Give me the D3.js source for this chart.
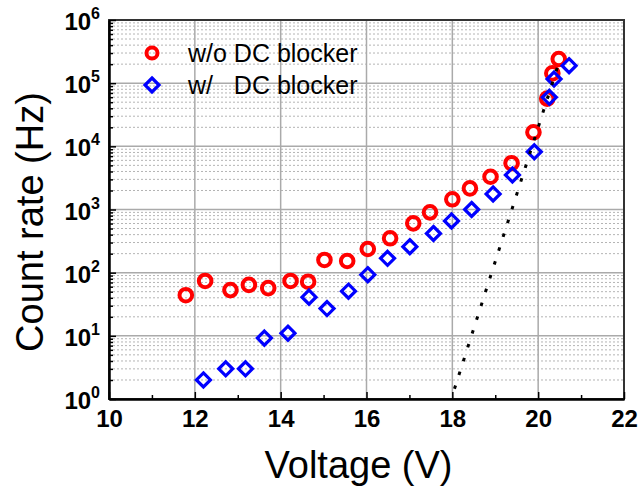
<!DOCTYPE html>
<html>
<head>
<meta charset="utf-8">
<script src="https://cdn.jsdelivr.net/npm/d3@7"></script>
<style>
  body { margin: 0; background: #fff; }
  svg text { font-family: "Liberation Sans", Arial, sans-serif; }
</style>
</head>
<body>
<div id="chart"></div>
<script>
// w/o DC blocker (red circles)
var voltWo = [11.79, 12.24, 12.83, 13.26, 13.71, 14.23, 14.64, 15.02, 15.55, 16.03, 16.55,
              17.09, 17.48, 18.0, 18.41, 18.89, 19.38, 19.89, 20.21, 20.33, 20.48];
var rateWo = [44, 74, 53, 64, 57, 74, 72, 159, 153, 237, 350,
              604, 902, 1450, 2160, 3300, 5400, 16700, 57000, 143000, 241000];
// w/ DC blocker (blue diamonds)
var voltW = [12.20, 12.72, 13.18, 13.62, 14.17, 14.66, 15.08, 15.58, 16.03, 16.49,
             17.01, 17.56, 17.98, 18.45, 18.95, 19.40, 19.91, 20.26, 20.37, 20.72];
var rateW = [2, 3, 3, 9.2, 11, 41, 27, 51, 93, 169,
             258, 417, 658, 1000, 1760, 3520, 8200, 59700, 116000, 189000];
// exponential fit (dotted)
var fitVolt = [18.05, 20.5];
var fitRate = [1.45, 230000];

var xTicks = [10, 12, 14, 16, 18, 20, 22];
var xMinor = [11, 13, 15, 17, 19, 21];
var yTicks = [1, 10, 100, 1000, 10000, 100000, 1000000];
var legendLabels = ['w/o DC blocker', 'w/   DC blocker'];

var W = 639, H = 486;
var margin = { top: 20, right: 15, bottom: 87, left: 109 };
var w = W - margin.left - margin.right;
var h = H - margin.top - margin.bottom;

var yMinor = [];
yTicks.slice(0, -1).forEach(function (d) {
	for (var k = 2; k <= 9; k++) yMinor.push(d * k);
});

var svg = d3.select('#chart').append('svg')
	.attr('width', W)
	.attr('height', H)
	.append('g')
	.attr('transform', 'translate(' + margin.left + ',' + margin.top + ')');

var x = d3.scaleLinear().domain([10, 22]).range([0, w]);
var y = d3.scaleLog().domain([1, 1e6]).range([h, 0]);

// grid
svg.selectAll('.gminor').data(yMinor).enter().append('line')
	.attr('x1', 0).attr('x2', w)
	.attr('y1', function (d) { return y(d); })
	.attr('y2', function (d) { return y(d); })
	.attr('stroke', '#b4b4b4').attr('stroke-width', 1)
	.attr('stroke-dasharray', '2,2');
svg.selectAll('.gmajy').data(yTicks.slice(1, -1)).enter().append('line')
	.attr('x1', 0).attr('x2', w)
	.attr('y1', function (d) { return y(d); })
	.attr('y2', function (d) { return y(d); })
	.attr('stroke', '#aaa').attr('stroke-width', 1.5);
svg.selectAll('.gmajx').data(xTicks.slice(1, -1)).enter().append('line')
	.attr('y1', 0).attr('y2', h)
	.attr('x1', function (d) { return x(d); })
	.attr('x2', function (d) { return x(d); })
	.attr('stroke', '#aaa').attr('stroke-width', 1.5);

// frame
svg.append('rect')
	.attr('width', w).attr('height', h)
	.attr('fill', 'none').attr('stroke', '#333').attr('stroke-width', 2);

// axes
var xAxis = svg.append('g')
	.attr('transform', 'translate(0,' + h + ')')
	.call(d3.axisBottom(x).tickValues(xTicks).tickSizeInner(-7).tickSizeOuter(0).tickPadding(11));
var xAxisMinor = svg.append('g')
	.attr('transform', 'translate(0,' + h + ')')
	.call(d3.axisBottom(x).tickValues(xMinor).tickSizeInner(-4).tickSizeOuter(0).tickFormat(''));
var yAxis = svg.append('g')
	.call(d3.axisLeft(y).tickValues(yTicks).tickSizeInner(-7).tickSizeOuter(0).tickPadding(9));
var yAxisMinor = svg.append('g')
	.call(d3.axisLeft(y).tickValues(yMinor).tickSizeInner(-4).tickSizeOuter(0).tickFormat(''));

[xAxis, xAxisMinor, yAxis, yAxisMinor].forEach(function (a) {
	a.select('.domain').attr('stroke', '#000').attr('stroke-width', 2);
	a.selectAll('.tick line').attr('stroke', '#000').attr('stroke-width', 1.5);
});

xAxis.selectAll('text')
	.attr('font-size', 24).attr('font-weight', 'bold').attr('fill', '#000')
	.attr('font-family', '"Liberation Sans", Arial, sans-serif');

yAxis.selectAll('text')
	.attr('font-size', 24).attr('font-weight', 'bold').attr('fill', '#000')
	.attr('font-family', '"Liberation Sans", Arial, sans-serif')
	.attr('dy', '0.4em')
	.each(function (d) {
		var t = d3.select(this);
		t.text('');
		t.append('tspan').text('10');
		t.append('tspan').attr('dy', -11).attr('font-size', 16).text(Math.round(Math.log10(d)));
	});

// axis titles
svg.append('text')
	.attr('x', x(16) - 8).attr('y', h + 79)
	.attr('text-anchor', 'middle')
	.attr('font-size', 38)
	.text('Voltage (V)');
svg.append('text')
	.attr('transform', 'translate(' + (43 - margin.left) + ',' + (222 - margin.top) + ') rotate(-90)')
	.attr('text-anchor', 'middle')
	.attr('font-size', 38)
	.text('Count rate (Hz)');

// markers
var diamond = function (s) {
	return 'M0,' + (-s) + 'L' + s + ',0L0,' + s + 'L' + (-s) + ',0Z';
};

svg.selectAll('.wo').data(voltWo).enter().append('circle')
	.attr('cx', function (d) { return x(d); })
	.attr('cy', function (d, i) { return y(rateWo[i]); })
	.attr('r', 6.3)
	.attr('fill', 'none').attr('stroke', '#ff0000').attr('stroke-width', 4);

svg.selectAll('.w').data(voltW).enter().append('path')
	.attr('transform', function (d, i) { return 'translate(' + x(d) + ',' + y(rateW[i]) + ')'; })
	.attr('d', diamond(7))
	.attr('fill', 'none').attr('stroke', '#0000ff').attr('stroke-width', 3.2);

// fit line
var fitLine = d3.line()
	.x(function (d) { return x(d); })
	.y(function (d, i) { return y(fitRate[i]); });
svg.append('path')
	.attr('d', fitLine(fitVolt))
	.attr('fill', 'none').attr('stroke', '#000').attr('stroke-width', 3)
	.attr('stroke-dasharray', '3.5,11');

// legend
var legend = svg.append('g').attr('transform', 'translate(' + (152 - margin.left) + ',' + (53 - margin.top) + ')');
legend.append('circle')
	.attr('cx', 0).attr('cy', 0).attr('r', 5.5)
	.attr('fill', 'none').attr('stroke', '#ff0000').attr('stroke-width', 4);
legend.append('path')
	.attr('transform', 'translate(0,32)')
	.attr('d', diamond(7))
	.attr('fill', 'none').attr('stroke', '#0000ff').attr('stroke-width', 3.2);
legend.selectAll('.lt').data(legendLabels).enter().append('text')
	.attr('x', 36)
	.attr('y', function (d, i) { return 9 + i * 32; })
	.attr('font-size', 25)
	.attr('xml:space', 'preserve')
	.style('white-space', 'pre')
	.text(function (d) { return d; });
</script>
</body>
</html>
